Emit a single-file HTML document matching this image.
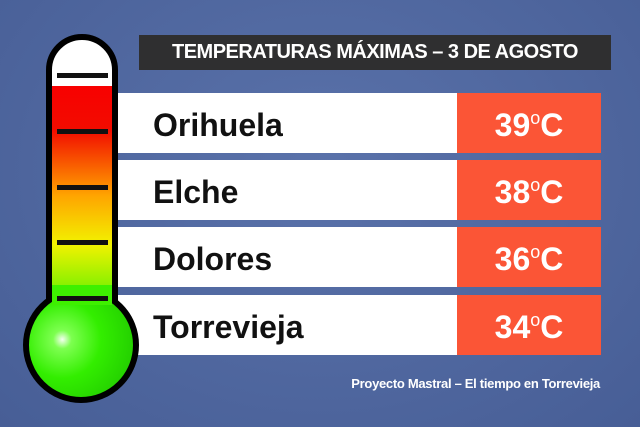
<!DOCTYPE html>
<html><head><meta charset="utf-8"><style>
body{margin:0;width:640px;height:427px;overflow:hidden;background:#5068a2;position:relative;font-family:"Liberation Sans",sans-serif}
.bg{position:absolute;inset:0;background:radial-gradient(ellipse at 50% 40%,#5a72aa,#475e96)}
.title{position:absolute;left:139px;top:35px;width:472px;height:35px;background:#2f2f30;color:#fff;font-weight:bold;font-size:20px;line-height:35px;text-align:center;letter-spacing:-0.5px}
.row{position:absolute;left:117px;width:340px;height:60px;background:#fff}
.row span{position:absolute;left:36px;top:0;line-height:64px;font-size:32px;font-weight:bold;color:#111}
.temp{position:absolute;left:457px;width:144px;height:60px;background:#fb5536;color:#fff;font-size:32px;font-weight:bold;text-align:center;line-height:64px}
.temp sup{font-size:18px;font-weight:normal;position:relative;top:-12px;vertical-align:baseline;line-height:0}
.foot{position:absolute;right:40px;top:376px;color:#fff;font-weight:bold;font-size:13px;letter-spacing:-0.3px}
</style></head><body>
<div class="bg"></div>
<div class="title">TEMPERATURAS MÁXIMAS – 3 DE AGOSTO</div>
<div class="row" style="top:93px"><span>Orihuela</span></div>
<div class="row" style="top:160px"><span>Elche</span></div>
<div class="row" style="top:227px"><span>Dolores</span></div>
<div class="row" style="top:295px"><span>Torrevieja</span></div>
<div class="temp" style="top:93px">39<sup>o</sup>C</div>
<div class="temp" style="top:160px">38<sup>o</sup>C</div>
<div class="temp" style="top:227px">36<sup>o</sup>C</div>
<div class="temp" style="top:295px">34<sup>o</sup>C</div>
<svg style="position:absolute;left:0;top:0" width="640" height="427">
<defs>
<linearGradient id="g" x1="0" y1="0" x2="0" y2="1">
<stop offset="0" stop-color="#f80000"/><stop offset="0.2" stop-color="#f20c00"/><stop offset="0.5" stop-color="#ffa500"/><stop offset="0.72" stop-color="#f2f200"/><stop offset="1" stop-color="#55f000"/></linearGradient>
<radialGradient id="b" cx="0.33" cy="0.45" r="0.7"><stop offset="0" stop-color="#f4fff0"/><stop offset="0.12" stop-color="#7dff50"/><stop offset="0.5" stop-color="#33ee00"/><stop offset="1" stop-color="#22cc00"/></radialGradient>
</defs>
<path d="M49,305 L49,70 A33,33 0 0 1 115,70 L115,305 Z" fill="#fff" stroke="#000" stroke-width="6"/>
<rect x="52" y="86" width="60" height="220" fill="url(#g)"/>
<ellipse cx="81" cy="345" rx="55" ry="55" fill="url(#b)" stroke="#000" stroke-width="6"/>
<rect x="52" y="285" width="60" height="20" fill="#3ef000"/>
<g fill="#111"><rect x="57" y="73" width="51" height="5"/><rect x="57" y="129" width="51" height="5"/><rect x="57" y="185" width="51" height="5"/><rect x="57" y="240" width="51" height="5"/><rect x="57" y="296" width="51" height="5"/></g>
</svg>
<div class="foot">Proyecto Mastral – El tiempo en Torrevieja</div>
</body></html>
